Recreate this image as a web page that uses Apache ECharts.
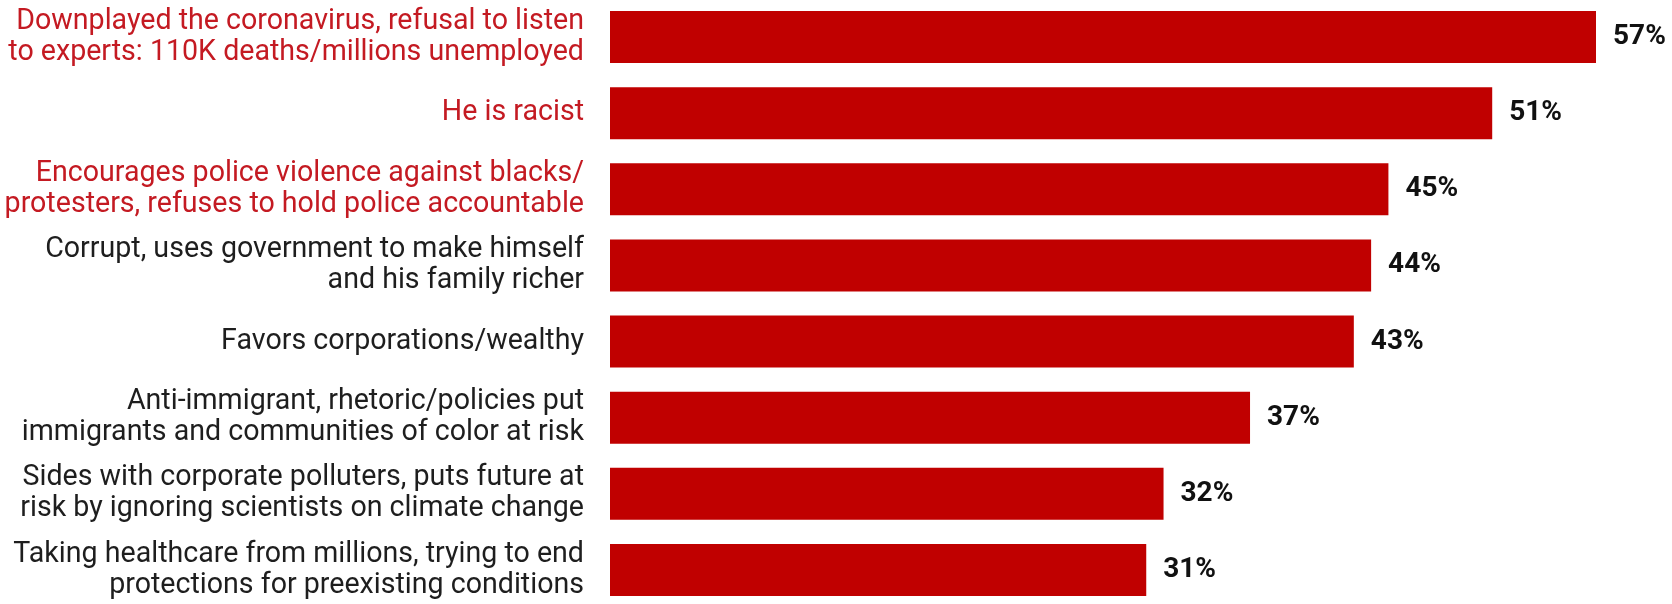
<!DOCTYPE html>
<html lang="en">
<head>
    <meta charset="UTF-8">
    <title>Reasons</title>
    <script src="https://cdn.jsdelivr.net/npm/echarts@6/dist/echarts.min.js"></script>
    <style>
        html, body { margin: 0; padding: 0; background: #fff; }
    </style>
</head>
<body>
<div id="main" style="width: 1672px;height:604px;"></div>
<script type="text/javascript">
    var reasons = [
        'Downplayed the coronavirus, refusal to listen\nto experts: 110K deaths/millions unemployed',
        'He is racist',
        'Encourages police violence against blacks/\nprotesters, refuses to hold police accountable',
        'Corrupt, uses government to make himself\nand his family richer',
        'Favors corporations/wealthy',
        'Anti-immigrant, rhetoric/policies put\nimmigrants and communities of color at risk',
        'Sides with corporate polluters, puts future at\nrisk by ignoring scientists on climate change',
        'Taking healthcare from millions, trying to end\nprotections for preexisting conditions'
    ];
    var percents = [57, 51, 45, 44, 43, 37, 32, 31];
    var highlighted = [true, true, true, false, false, false, false, false];

    var myChart = echarts.init(document.getElementById('main'));

    var categories = reasons.map(function (name, i) {
        return {
            value: name,
            textStyle: { color: highlighted[i] ? '#c41a22' : '#1e1e1e' }
        };
    });

    var option = {
        animation: false,
        grid: { left: 610, right: 76, top: -1, height: 609, outerBoundsMode: 'none' },
        xAxis: {
            type: 'value',
            min: 0,
            max: 57,
            show: false
        },
        yAxis: {
            type: 'category',
            inverse: true,
            data: categories,
            axisLine: { show: false },
            axisTick: { show: false },
            axisLabel: {
                margin: 26,
                fontFamily: 'Roboto',
                fontSize: 28.6,
                lineHeight: 31,
                align: 'right'
            }
        },
        series: [{
            type: 'bar',
            data: percents,
            barWidth: 52,
            itemStyle: { color: '#c00000' },
            label: {
                show: true,
                position: 'right',
                distance: 17,
                formatter: '{c}%',
                fontFamily: 'Roboto',
                fontWeight: 'bold',
                fontSize: 28,
                color: '#111111'
            }
        }]
    };

    myChart.setOption(option);
</script>
</body>
</html>
